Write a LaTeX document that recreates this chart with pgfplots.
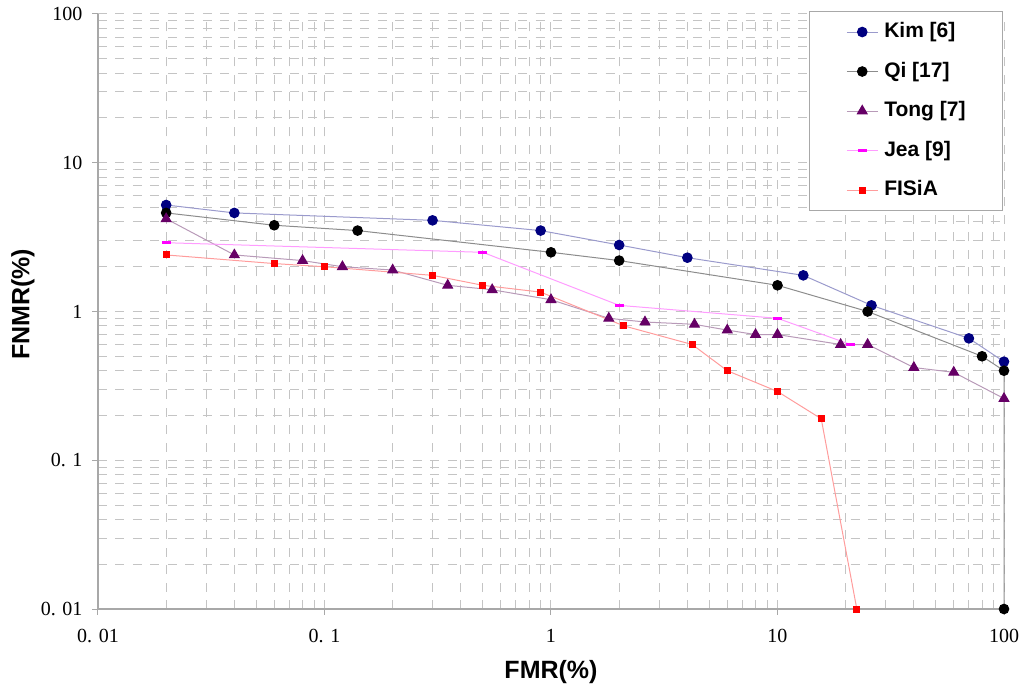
\documentclass[border=0pt]{standalone}
\usepackage{fontspec}
\setmainfont{Liberation Serif}
\newfontfamily\arialf{Liberation Sans}
\usepackage{pgfplots}
\pgfplotsset{compat=1.18}

\definecolor{kimmark}{HTML}{000080}
\definecolor{kimline}{HTML}{9A9ACC}
\definecolor{qiline}{HTML}{8C8C8C}
\definecolor{tongmark}{HTML}{660066}
\definecolor{tongline}{HTML}{B89AB8}
\definecolor{jeamark}{HTML}{FF00FF}
\definecolor{jealine}{HTML}{FF9CFF}
\definecolor{fisline}{HTML}{FF9C9C}
\definecolor{gridc}{HTML}{C4C4C4}
\definecolor{axc}{HTML}{A8A8A8}

\begin{document}
\begin{tikzpicture}
\begin{loglogaxis}[
  name=ax, at={(0,0)}, anchor=south west,
  scale only axis, width=906pt, height=595pt,
  xmin=0.01, xmax=100, ymin=0.01, ymax=100,
  axis x line*=bottom, axis y line*=left,
  axis line style={axc, line width=1.3pt},
  xtick={0.01,0.1,1,10,100},
  xticklabels={0. 01,0. 1,1,10,100},
  ytick={0.01,0.1,1,10,100},
  yticklabels={0. 01,0. 1,1,10,100},
  tick align=outside,
  major tick length=6pt, minor tick length=0pt,
  tick style={axc, line width=1pt},
  ticklabel style={font=\fontsize{20}{22}\selectfont},
  xticklabel style={yshift=-11pt},
  yticklabel style={xshift=-6pt},
  grid=both,
  major grid style={gridc, line width=1pt, dash pattern=on 9pt off 8.5pt},
  minor grid style={gridc, line width=1pt, dash pattern=on 9pt off 8.5pt},
  xlabel={FMR(\%)}, ylabel={FNMR(\%)},
  label style={font=\arialf\bfseries\fontsize{25}{28}\selectfont},
  xlabel style={at={(axis description cs:0.5,0)}, anchor=center, yshift=-63pt},
  ylabel style={at={(axis description cs:0,0.512)}, anchor=center, yshift=75pt},
  clip=false,
  legend cell align=left,
  legend image code/.code={\draw[mark repeat=2,mark phase=2,#1] plot coordinates {(0pt,0pt)(15.5pt,0pt)(31pt,0pt)};},
  legend style={at={(0.9989,1.005)}, anchor=north east, draw=axc, line width=1pt,
    font=\arialf\bfseries\fontsize{21}{24}\selectfont,
    inner xsep=37pt, inner ysep=11pt, row sep=20.5pt, column sep=6pt,
    nodes={inner sep=0pt, text height=15pt, text depth=4pt}},
  every axis plot/.append style={line width=1pt},
]
\addplot[kimline, mark=*, mark size=4.8pt, mark options={kimmark, fill=kimmark}] coordinates {
  (0.02,5.2)(0.04,4.6)(0.3,4.1)(0.9,3.5)(2,2.8)(4,2.3)(13,1.75)(26,1.1)(70,0.66)(100,0.46)};
\addlegendentry{Kim [6]}
\addplot[qiline, mark=*, mark size=4.8pt, mark options={black, fill=black}] coordinates {
  (0.02,4.6)(0.06,3.8)(0.14,3.5)(1,2.5)(2,2.2)(10,1.5)(25,1.0)(80,0.5)(100,0.4)(100,0.01)};
\addlegendentry{Qi [17]}
\addplot[tongline, mark=triangle*, mark size=5.6pt, mark options={tongmark, fill=tongmark}] coordinates {
  (0.02,4.2)(0.04,2.4)(0.08,2.2)(0.12,2.0)(0.2,1.9)(0.35,1.5)(0.55,1.4)(1,1.2)(1.8,0.9)(2.6,0.85)
  (4.3,0.82)(6,0.75)(8,0.7)(10,0.7)(19,0.6)(25,0.6)(40,0.42)(60,0.39)(100,0.26)};
\addlegendentry{Tong [7]}
\addplot[jealine, mark=-, mark size=4.5pt, mark options={jeamark, line width=3.5pt}] coordinates {
  (0.02,2.9)(0.5,2.5)(2,1.1)(10,0.9)(21,0.6)};
\addlegendentry{Jea [9]}
\addplot[fisline, mark=square*, mark size=3pt, mark options={red, fill=red}] coordinates {
  (0.02,2.4)(0.06,2.1)(0.1,2.0)(0.3,1.75)(0.5,1.5)(0.9,1.35)(2.1,0.8)(4.2,0.6)(6,0.4)(10,0.29)(15.6,0.19)(22.4,0.01)};
\addlegendentry{FISiA}
\end{loglogaxis}
\pgfresetboundingbox
\path (ax.south west) ++(-98pt,-81pt) rectangle ++(1024pt,690pt);
\end{tikzpicture}
\end{document}
